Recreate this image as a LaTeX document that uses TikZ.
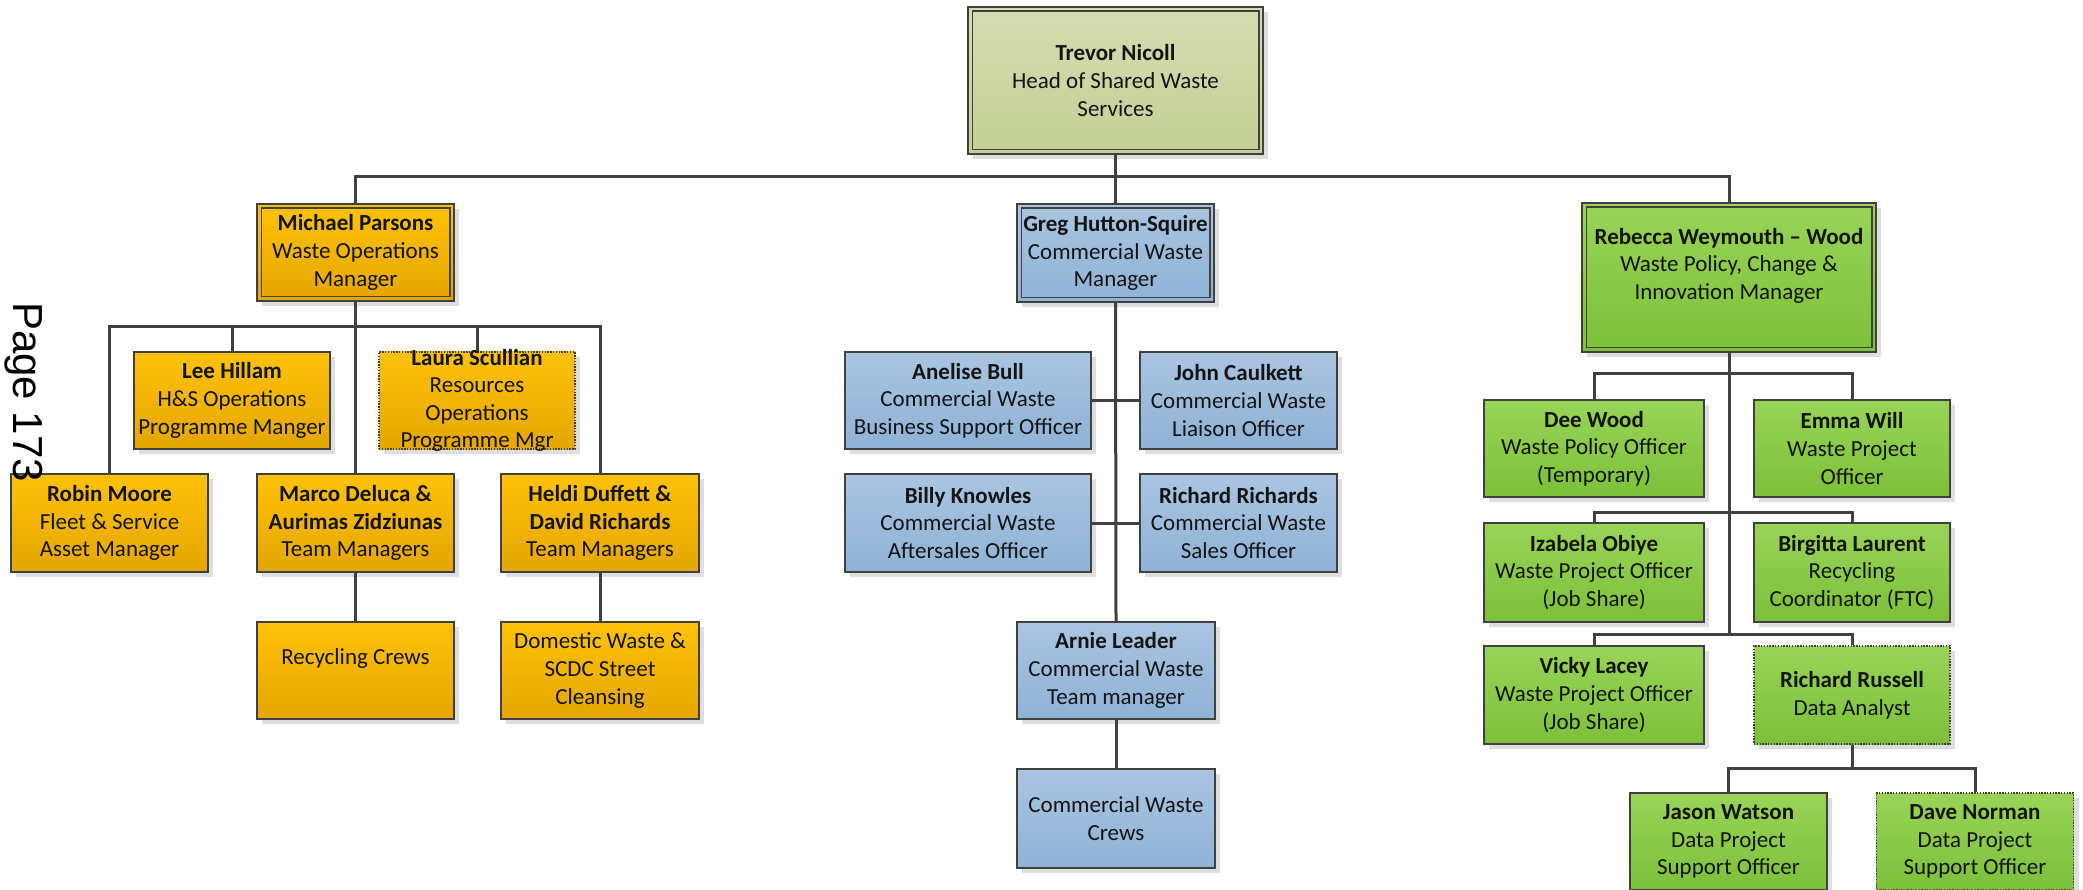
\documentclass[tikz,border=0pt]{standalone}
\usepackage{fontspec}
\setmainfont{Carlito}
\newfontfamily\pagefont{Liberation Sans}
\usetikzlibrary{shadows}

\definecolor{linegray}{RGB}{64,64,64}
\definecolor{shadowgray}{RGB}{222,222,222}
\definecolor{olivetop}{RGB}{214,220,178}
\definecolor{olivebot}{RGB}{196,208,150}
\definecolor{orangetop}{RGB}{255,194,10}
\definecolor{orangebot}{RGB}{228,166,0}
\definecolor{bluetop}{RGB}{170,197,225}
\definecolor{bluebot}{RGB}{143,178,214}
\definecolor{greentop}{RGB}{153,212,88}
\definecolor{greenbot}{RGB}{124,192,58}
\definecolor{txt}{RGB}{20,20,20}

\begin{document}
\begin{tikzpicture}[x=1pt,y=-1pt,
  stbox/.style={draw=linegray, line width=1.5pt, rectangle, inner sep=0pt,
    align=center, font=\fontsize{23}{27.6}\selectfont, text=txt,
    general shadow={fill=shadowgray, shadow xshift=5pt, shadow yshift=-5pt}},
  sz/.style 2 args={minimum width=#1pt, minimum height=#2pt},
  olivebox/.style={stbox, top color=olivetop, bottom color=olivebot},
  orangebox/.style={stbox, top color=orangetop, bottom color=orangebot},
  bluebox/.style={stbox, top color=bluetop, bottom color=bluebot},
  greenbox/.style={stbox, top color=greentop, bottom color=greenbot},
  dottedbd/.style={line width=1.2pt, dash pattern=on 1.4pt off 1.4pt},
  innerbd/.style={draw=linegray, line width=1.5pt},
  conn/.style={draw=linegray, line width=3pt},
  labeltxt/.style={align=center, inner sep=0pt, font=\fontsize{23}{27.6}\selectfont, text=txt}
]
\fill[white] (0,0) rectangle (2083,890);
\useasboundingbox (0,0) rectangle (2083,890);

% ---- top
\node[olivebox, sz={295}{147}] (trevor) at (1115.5,80.5) {\textbf{Trevor Nicoll}\\Head of Shared Waste\\Services};
\draw[innerbd] ([xshift=5pt,yshift=-5pt]trevor.north west) rectangle ([xshift=-5pt,yshift=5pt]trevor.south east);

% ---- orange branch
\node[orangebox, sz={197}{97}] (michael) at (355.5,252.5) {\textbf{Michael Parsons}\\Waste Operations\\Manager};
\draw[innerbd] ([xshift=5pt,yshift=-5pt]michael.north west) rectangle ([xshift=-5pt,yshift=5pt]michael.south east);
\node[orangebox, sz={196}{97}] (lee) at (232,400.5) {\textbf{Lee Hillam}\\H\&S Operations\\Programme Manger};
\node[orangebox, dottedbd, sz={196}{97}] (laura) at (477,400.5) {};
\node[labeltxt] at (laura.center) {\textbf{Laura Scullian}\\Resources\\Operations\\Programme Mgr};
\node[orangebox, sz={197}{98}] (robin) at (109.5,523) {\textbf{Robin Moore}\\Fleet \& Service\\Asset Manager};
\node[orangebox, sz={197}{98}] (marco) at (355.5,523) {\textbf{Marco Deluca \&}\\\textbf{Aurimas Zidziunas}\\Team Managers};
\node[orangebox, sz={198}{98}] (heidi) at (600,523) {\textbf{Heldi Duffett \&}\\\textbf{David Richards}\\Team Managers};
\node[orangebox, sz={197}{97}] (recycling) at (355.5,670.5) {Recycling Crews\\~};
\node[orangebox, sz={198}{97}] (domestic) at (600,670.5) {Domestic Waste \&\\SCDC Street\\Cleansing};

% ---- blue branch
\node[bluebox, sz={197}{98}] (greg) at (1115.5,253) {\textbf{Greg Hutton-Squire}\\Commercial Waste\\Manager};
\draw[innerbd] ([xshift=5pt,yshift=-5pt]greg.north west) rectangle ([xshift=-5pt,yshift=5pt]greg.south east);
\node[bluebox, sz={246}{97}] (anelise) at (968,400.5) {\textbf{Anelise Bull}\\Commercial Waste\\Business Support Officer};
\node[bluebox, sz={197}{97}] (john) at (1238.5,400.5) {\textbf{John Caulkett}\\Commercial Waste\\Liaison Officer};
\node[bluebox, sz={246}{98}] (billy) at (968,523) {\textbf{Billy Knowles}\\Commercial Waste\\Aftersales Officer};
\node[bluebox, sz={197}{98}] (richardr) at (1238.5,523) {\textbf{Richard Richards}\\Commercial Waste\\Sales Officer};
\node[bluebox, sz={198}{97}] (arnie) at (1116,670.5) {\textbf{Arnie Leader}\\Commercial Waste\\Team manager};
\node[bluebox, sz={198}{99}] (cwcrews) at (1116,818.5) {Commercial Waste\\Crews};

% ---- green branch
\node[greenbox, sz={294}{149}] (rebecca) at (1729,277.5) {\textbf{Rebecca Weymouth – Wood}\\Waste Policy, Change \&\\Innovation Manager\\~};
\draw[innerbd] ([xshift=5pt,yshift=-5pt]rebecca.north west) rectangle ([xshift=-5pt,yshift=5pt]rebecca.south east);
\node[greenbox, sz={220}{97}] (dee) at (1594,448.5) {\textbf{Dee Wood}\\Waste Policy Officer\\(Temporary)};
\node[greenbox, sz={196}{97}] (emma) at (1852,448.5) {\textbf{Emma Will}\\Waste Project\\Officer};
\node[greenbox, sz={220}{99}] (izabela) at (1594,572.5) {\textbf{Izabela Obiye}\\Waste Project Officer\\(Job Share)};
\node[greenbox, sz={196}{99}] (birgitta) at (1852,572.5) {\textbf{Birgitta Laurent}\\Recycling\\Coordinator (FTC)};
\node[greenbox, sz={220}{98}] (vicky) at (1594,695) {\textbf{Vicky Lacey}\\Waste Project Officer\\(Job Share)};
\node[greenbox, dottedbd, sz={196}{98}] (russell) at (1852,695) {\textbf{Richard Russell}\\Data Analyst};
\node[greenbox, sz={197}{97}] (jason) at (1728.5,841.5) {\textbf{Jason Watson}\\Data Project\\Support Officer};
\node[greenbox, dottedbd, sz={197}{97}] (dave) at (1975,841.5) {\textbf{Dave Norman}\\Data Project\\Support Officer};

% ---- connectors
\coordinate (tbar) at (1115.5,177);
\draw[conn] (trevor.south) -- (greg.north);
\draw[conn] (michael.north) |- (tbar) -| (rebecca.north);

\coordinate (mbar) at (355.5,327);
\draw[conn] (michael.south) -- (marco.north);
\draw[conn] (robin.north) |- (mbar) -| (heidi.north);
\draw[conn] (lee.north) |- (mbar);
\draw[conn] (laura.north) |- (mbar);
\draw[conn] (marco.south) -- (recycling.north);
\draw[conn] (heidi.south) -- (domestic.north);

\draw[conn] (greg.south) -- (arnie.north);
\draw[conn] (anelise.east) -- (john.west);
\draw[conn] (billy.east) -- (richardr.west);
\draw[conn] (arnie.south) -- (cwcrews.north);

\coordinate (rb1) at (1729,374);
\coordinate (rb2) at (1729,512);
\coordinate (rb3) at (1729,634);
\draw[conn] (rebecca.south) -- (rb3);
\draw[conn] (dee.north) |- (rb1) -| (emma.north);
\draw[conn] (izabela.north) |- (rb2) -| (birgitta.north);
\draw[conn] (vicky.north) |- (rb3) -| (russell.north);
\coordinate (rrb) at (1852,768);
\draw[conn] (russell.south) -- (rrb);
\draw[conn] (jason.north) |- (rrb) -| (dave.north);

% ---- page number
\node[rotate=-90, anchor=base west, inner sep=0pt, font=\pagefont\fontsize{42}{42}\selectfont] (pagenum) at (13,302) {Page 173};
\end{tikzpicture}
\end{document}
